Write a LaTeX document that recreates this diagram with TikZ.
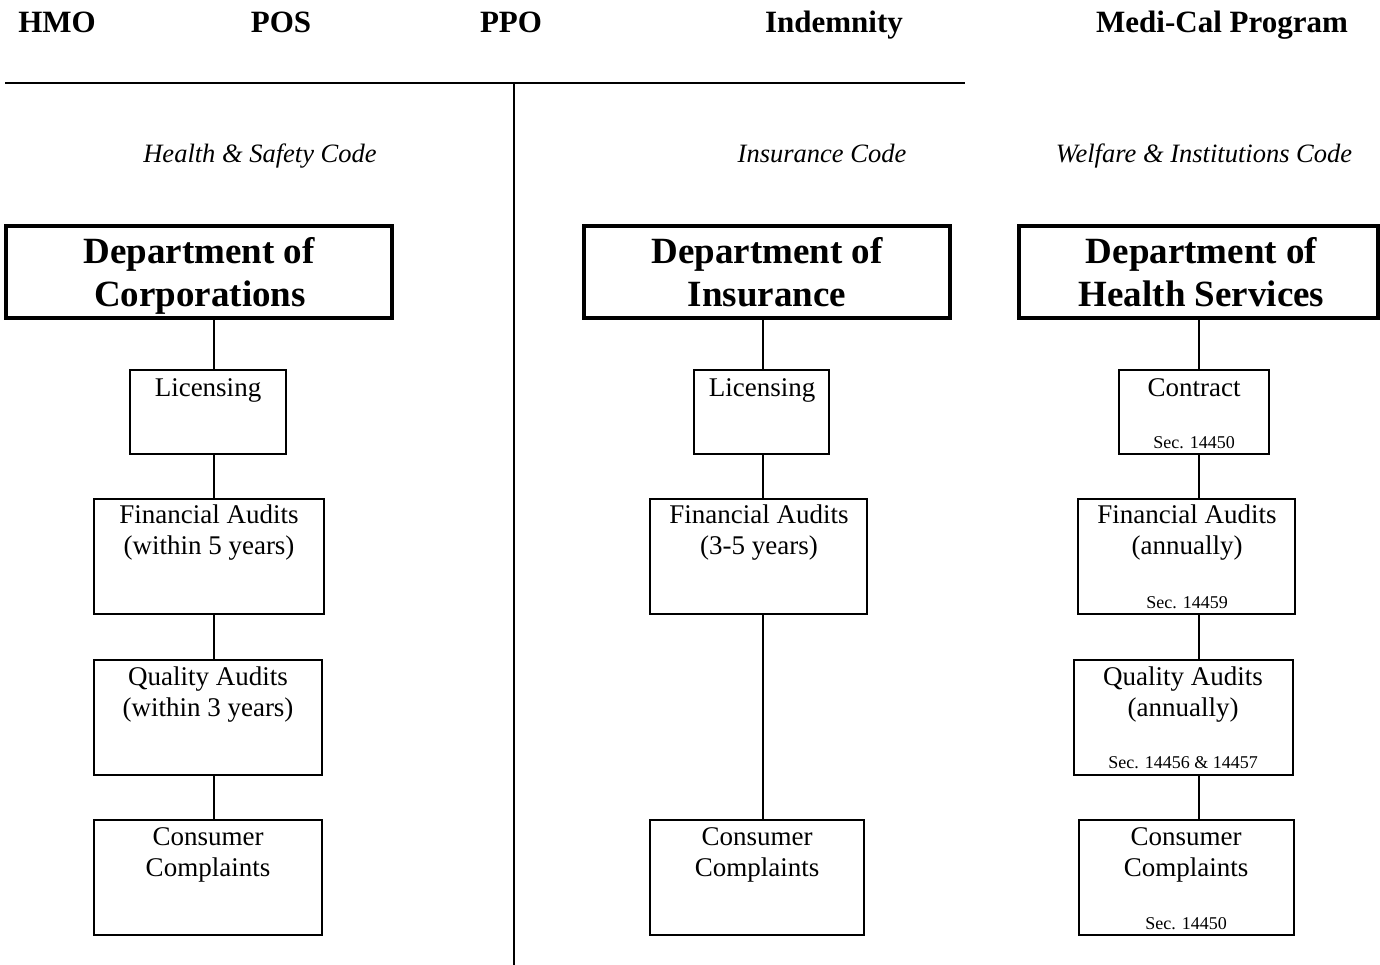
\documentclass[tikz,border=0pt]{standalone}
\usepackage{fontspec}
\setmainfont{Liberation Serif}
\begin{document}
\begin{tikzpicture}[x=1pt,y=-1pt,
  thinbox/.style={draw, line width=2pt, inner sep=0pt, rectangle},
  deptbox/.style={draw, line width=4pt, inner sep=0pt, rectangle},
  conn/.style={line width=2pt},
  rule/.style={line width=2.5pt},
  hdr/.style={font=\fontsize{31}{36}\selectfont\bfseries, anchor=base, inner sep=0pt},
  dept/.style={font=\fontsize{37}{43}\selectfont\bfseries, anchor=base, inner sep=0pt},
  code/.style={font=\fontsize{26.5}{30}\selectfont\itshape, anchor=base, inner sep=0pt},
  txt/.style={font=\fontsize{27}{31}\selectfont, anchor=base, inner sep=0pt},
  sec/.style={font=\fontsize{18}{21}\selectfont, anchor=base, inner sep=0pt}]
\useasboundingbox[fill=white] (0,0) rectangle (1380,965);

% headers
\node[hdr] (hmo) at (57,33) {HMO};
\node[hdr] (pos) at (281,33) {POS};
\node[hdr] (ppo) at (511,33) {PPO};
\node[hdr] (ind) at (834,33) {Indemnity};
\node[hdr] (medi) at (1222,33) {Medi-Cal Program};

% rule and divider
\coordinate (rl) at (5,83);
\coordinate (rr) at (965,83);
\coordinate (dt) at (514,83);
\coordinate (db) at (514,965);
\draw[rule] (rl) -- (rr);
\draw[conn] (dt) -- (db);

% code labels
\node[code] (hsc) at (260,163) {Health \& Safety Code};
\node[code] (ic) at (822,163) {Insurance Code};
\node[code] (wic) at (1204,163) {Welfare \& Institutions Code};

% column 1
\node[deptbox, minimum width=386pt, minimum height=92pt] (D1) at (199,272) {};
\node[dept] (D1a) at (199,264) {Department of};
\node[dept] (D1b) at (200,307) {Corporations};
\node[thinbox, minimum width=156pt, minimum height=84pt] (L1) at (208,412) {};
\node[txt] (L1a) at (208,396) {Licensing};
\node[thinbox, minimum width=230pt, minimum height=115pt] (F1) at (209,556.5) {};
\node[txt] (F1a) at (209,523) {Financial Audits};
\node[txt] (F1b) at (209,554) {(within 5 years)};
\node[thinbox, minimum width=228pt, minimum height=115pt] (Q1) at (208,717.5) {};
\node[txt] (Q1a) at (208,685) {Quality Audits};
\node[txt] (Q1b) at (208,716) {(within 3 years)};
\node[thinbox, minimum width=228pt, minimum height=115pt] (C1) at (208,877.5) {};
\node[txt] (C1a) at (208,845) {Consumer};
\node[txt] (C1b) at (208,876) {Complaints};
\coordinate (x1) at (214,0);
\draw[conn] (D1.south -| x1) -- (L1.north -| x1);
\draw[conn] (L1.south -| x1) -- (F1.north -| x1);
\draw[conn] (F1.south -| x1) -- (Q1.north -| x1);
\draw[conn] (Q1.south -| x1) -- (C1.north -| x1);

% column 2
\node[deptbox, minimum width=366pt, minimum height=92pt] (D2) at (767,272) {};
\node[dept] (D2a) at (767,264) {Department of};
\node[dept] (D2b) at (767,307) {Insurance};
\node[thinbox, minimum width=135pt, minimum height=84pt] (L2) at (761.5,412) {};
\node[txt] (L2a) at (762,396) {Licensing};
\node[thinbox, minimum width=217pt, minimum height=115pt] (F2) at (758.5,556.5) {};
\node[txt] (F2a) at (759,523) {Financial Audits};
\node[txt] (F2b) at (759,554) {(3-5 years)};
\node[thinbox, minimum width=214pt, minimum height=115pt] (C2) at (757,877.5) {};
\node[txt] (C2a) at (757,845) {Consumer};
\node[txt] (C2b) at (757,876) {Complaints};
\coordinate (x2) at (763,0);
\draw[conn] (D2.south -| x2) -- (L2.north -| x2);
\draw[conn] (L2.south -| x2) -- (F2.north -| x2);
\draw[conn] (F2.south -| x2) -- (C2.north -| x2);

% column 3
\node[deptbox, minimum width=359pt, minimum height=92pt] (D3) at (1198.5,272) {};
\node[dept] (D3a) at (1201.5,264) {Department of};
\node[dept] (D3b) at (1201.5,307) {Health Services};
\node[thinbox, minimum width=150pt, minimum height=84pt] (K3) at (1194,412) {};
\node[txt] (K3a) at (1194,396) {Contract};
\node[sec] (K3s) at (1194,448) {Sec. 14450};
\node[thinbox, minimum width=217pt, minimum height=115pt] (F3) at (1186.5,556.5) {};
\node[txt] (F3a) at (1187,523) {Financial Audits};
\node[txt] (F3b) at (1187,554) {(annually)};
\node[sec] (F3s) at (1187,608) {Sec. 14459};
\node[thinbox, minimum width=219pt, minimum height=115pt] (Q3) at (1183.5,717.5) {};
\node[txt] (Q3a) at (1183,685) {Quality Audits};
\node[txt] (Q3b) at (1183,716) {(annually)};
\node[sec] (Q3s) at (1183,768) {Sec. 14456 \& 14457};
\node[thinbox, minimum width=215pt, minimum height=115pt] (C3) at (1186.5,877.5) {};
\node[txt] (C3a) at (1186,845) {Consumer};
\node[txt] (C3b) at (1186,876) {Complaints};
\node[sec] (C3s) at (1186,929) {Sec. 14450};
\coordinate (x3) at (1199,0);
\draw[conn] (D3.south -| x3) -- (K3.north -| x3);
\draw[conn] (K3.south -| x3) -- (F3.north -| x3);
\draw[conn] (F3.south -| x3) -- (Q3.north -| x3);
\draw[conn] (Q3.south -| x3) -- (C3.north -| x3);
\end{tikzpicture}
\end{document}
